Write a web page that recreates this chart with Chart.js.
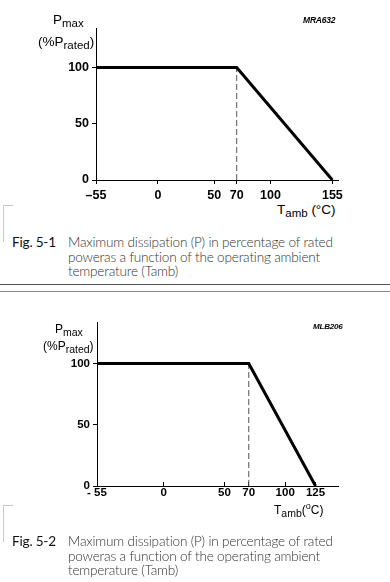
<!DOCTYPE html>
<html>
<head>
<meta charset="utf-8">
<script src="https://cdn.jsdelivr.net/npm/chart.js@4"></script>
<style>
  html, body { margin:0; padding:0; background:#fff; }
  body { width:390px; height:582px; position:relative; overflow:hidden; font-family:"Liberation Sans", Arial, Helvetica, sans-serif; }
  .abs { position:absolute; white-space:nowrap; color:#000; }
  .lbl { font-size:13.5px; line-height:14px; }
  .lbl sub { font-size:11.5px; vertical-align:-3px; line-height:0; }
  .lbl2 { font-size:12px; line-height:12px; }
  .lbl2 sub { font-size:10.5px; vertical-align:-3px; line-height:0; }
  .code { font-style:italic; font-weight:bold; font-size:8.5px; letter-spacing:-0.2px; }
  .cap { font-family:"Lato", "Open Sans", sans-serif; font-weight:300; font-size:13.6px; letter-spacing:-0.2px; line-height:14.7px; color:#333; }
  .figno { color:#111; font-weight:400; }
  .rule { position:absolute; left:0; width:390px; }
  .brk { position:absolute; border:1px solid #c8c8c8; border-right:none; }
</style>
</head>
<body>
<div style="position:absolute;left:0;top:0;width:390px;height:200px;"><canvas id="c1"></canvas></div>
<div style="position:absolute;left:0;top:300px;width:390px;height:206px;"><canvas id="c2"></canvas></div>

<!-- chart 1 labels -->
<div class="abs lbl" style="left:53px;top:13px;">P<sub>max</sub></div>
<div class="abs lbl" style="left:38px;top:35px;">(%P<sub>rated</sub>)</div>
<div class="abs code" style="left:303px;top:15px;">MRA632</div>
<div class="abs lbl" style="left:277px;top:203px;">T<sub>amb</sub> (°C)</div>

<!-- chart 2 labels -->
<div class="abs lbl2" style="left:55px;top:323px;">P<sub>max</sub></div>
<div class="abs lbl2" style="left:43px;top:340px;">(%P<sub>rated</sub>)</div>
<div class="abs code" style="left:313px;top:322px;font-size:8px;">MLB206</div>
<div class="abs lbl2" style="left:274px;top:500px;">T<sub>amb</sub>(<sup style="font-size:9px;">o</sup>C)</div>

<!-- captions -->
<div class="brk" style="left:3px;top:205px;width:9px;height:36px;border-bottom:none;"></div>
<div class="abs cap figno" style="left:12px;top:235px;">Fig. 5-1</div>
<div class="abs cap" style="left:68px;top:235px;">Maximum dissipation (P) in percentage of rated<br>poweras a function of the operating ambient<br>temperature (Tamb)</div>

<div class="rule" style="top:284px;border-top:1px solid #555;"></div>
<div class="rule" style="top:291px;border-top:1px solid #8a8a8a;"></div>

<div class="brk" style="left:3px;top:505px;width:9px;height:36px;border-bottom:none;"></div>
<div class="abs cap figno" style="left:12px;top:534px;">Fig. 5-2</div>
<div class="abs cap" style="left:68px;top:534px;">Maximum dissipation (P) in percentage of rated<br>poweras a function of the operating ambient<br>temperature (Tamb)</div>

<script>
// ---- data ----
const tempA = [-55, 70, 155];
const powerA = [100, 100, 0];
const tempB = [-55, 70, 125];
const powerB = [100, 100, 0];
const kneeTemp = [70, 70];
const kneePower = [0, 100];
const xTicksA = [-55, 0, 50, 70, 100, 155];
const xTicksB = [-55, 0, 50, 70, 100, 125];
const yTicks = [0, 50, 100];

function pts(xs, ys) { return xs.map((x, i) => ({ x: x, y: ys[i] })); }

function makeChart(id, cfg) {
  return new Chart(document.getElementById(id), {
    type: 'line',
    data: {
      datasets: [
        { data: pts(cfg.temp, cfg.power), borderColor: '#000', borderWidth: 3, pointRadius: 0, tension: 0, fill: false },
        { data: pts(kneeTemp, kneePower), borderColor: '#555', borderWidth: 1, borderDash: [6, 3], pointRadius: 0, fill: false }
      ]
    },
    options: {
      responsive: true,
      maintainAspectRatio: false,
      animation: false,
      events: [],
      layout: { padding: { left: 0, right: 390 - cfg.right, top: cfg.top, bottom: 0 } },
      plugins: { legend: { display: false }, tooltip: { enabled: false } },
      scales: {
        x: {
          type: 'linear', min: -55, max: cfg.xmax,
          afterBuildTicks: s => { s.ticks = cfg.xTicks.map(v => ({ value: v })); },
          afterFit: s => { s.height = 20; },
          grid: { display: true, drawOnChartArea: false, drawTicks: true, tickLength: cfg.xTickLen, color: '#000', lineWidth: 1 },
          border: { display: true, color: '#000', width: 1 },
          ticks: { color: '#000', padding: cfg.xPad, maxRotation: 0, autoSkip: false,
            font: { family: 'Liberation Sans', weight: 'bold', size: cfg.fs },
            callback: v => v === -55 ? cfg.neg : String(v) }
        },
        y: {
          type: 'linear', min: 0, max: cfg.ymax,
          afterBuildTicks: s => { s.ticks = yTicks.map(v => ({ value: v })); },
          afterFit: s => { s.width = cfg.left; },
          grid: { display: true, drawOnChartArea: false, drawTicks: true, tickLength: 4, color: '#000', lineWidth: 1 },
          border: { display: true, color: '#000', width: 1 },
          ticks: { color: '#000', padding: 3, autoSkip: false,
            font: { family: 'Liberation Sans', weight: 'bold', size: cfg.fs } }
        }
      }
    }
  });
}

makeChart('c1', { temp: tempA, power: powerA, xTicks: xTicksA, xmax: 160, ymax: 135, left: 96, right: 338, top: 28, fs: 12.5, xTickLen: 4, xPad: 4, neg: '\u201355' });
makeChart('c2', { temp: tempB, power: powerB, xTicks: xTicksB, xmax: 143.5, ymax: 134, left: 97, right: 338, top: 22, fs: 11.5, xTickLen: -4, xPad: 4, neg: '- 55' });
</script>
</body>
</html>
